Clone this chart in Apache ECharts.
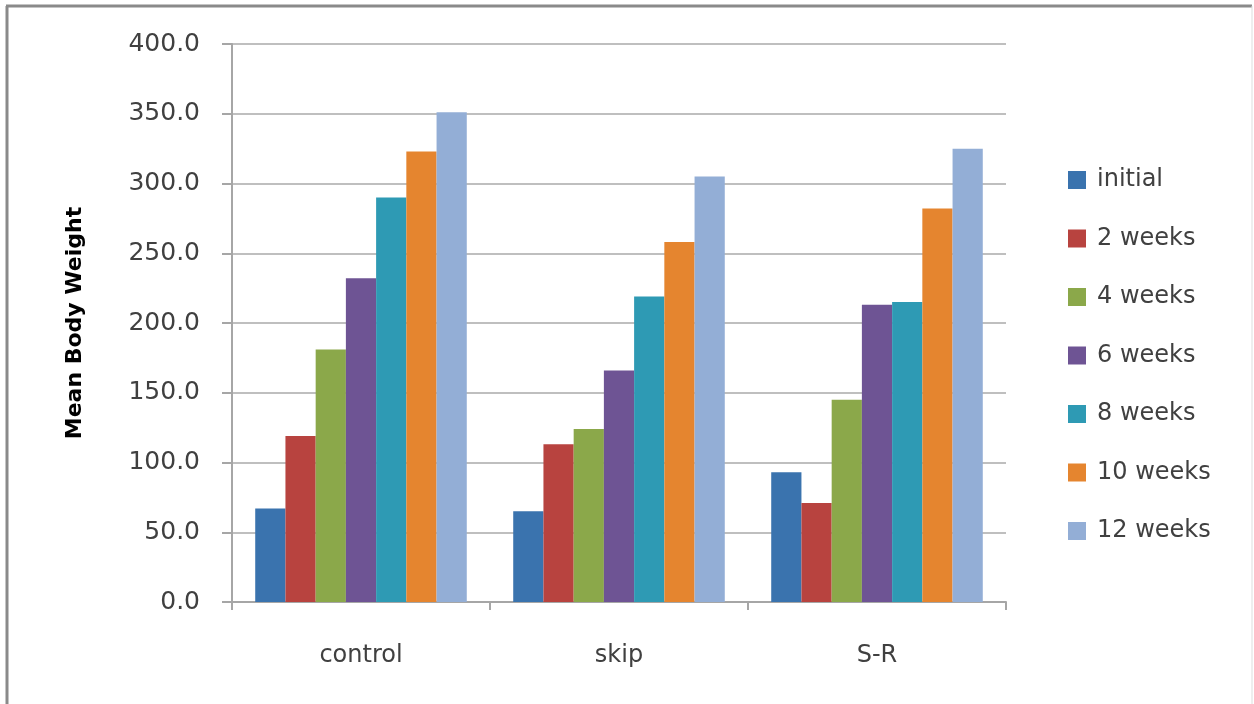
<!DOCTYPE html>
<html>
<head>
<meta charset="utf-8">
<script src="https://cdn.jsdelivr.net/npm/echarts@6/dist/echarts.min.js"></script>
<style>html,body{margin:0;padding:0;background:#fff;}#chart{width:1254px;height:704px;}</style>
</head>
<body>
<div id="chart"></div>
<script>
const categories = ['control', 'skip', 'S-R'];
const seriesNames = ['initial', '2 weeks', '4 weeks', '6 weeks', '8 weeks', '10 weeks', '12 weeks'];
const initial = [67, 65, 93];
const week2 = [119, 113, 71];
const week4 = [181, 124, 145];
const week6 = [232, 166, 213];
const week8 = [290, 219, 215];
const week10 = [323, 258, 282];
const week12 = [351, 305, 325];
const colors = ['#3a73ae', '#b8433f', '#8ba84a', '#6e5494', '#2e9ab4', '#e5852f', '#93aed6'];
const yTicks = { min: 0, max: 400, interval: 50 };

const seriesData = [initial, week2, week4, week6, week8, week10, week12];
const FONT = 'DejaVu Sans';

const chart = echarts.init(document.getElementById('chart'));
chart.setOption({
  backgroundColor: '#fff',
  animation: false,
  color: colors,
  grid: { left: 232, right: 248, top: 44, bottom: 102 },
  legend: {
    orient: 'vertical',
    left: 1063,
    top: 163,
    itemWidth: 18,
    itemHeight: 18,
    itemGap: 34.5,
    icon: 'rect',
    data: seriesNames,
    textStyle: { fontFamily: FONT, fontSize: 24, color: '#404040', lineHeight: 18, padding: [0, 0, 0, 6] }
  },
  xAxis: {
    type: 'category',
    data: categories,
    axisLine: { lineStyle: { color: '#a6a6a6', width: 2 } },
    axisTick: { show: true, length: 8, lineStyle: { color: '#a6a6a6', width: 2 } },
    axisLabel: { fontFamily: FONT, fontSize: 24, color: '#404040', margin: 42 }
  },
  yAxis: {
    type: 'value',
    min: yTicks.min,
    max: yTicks.max,
    interval: yTicks.interval,
    name: 'Mean Body Weight',
    nameLocation: 'middle',
    nameGap: 146,
    nameRotate: 90,
    nameTextStyle: { fontFamily: FONT, fontSize: 22, fontWeight: 'bold', color: '#000' },
    axisLine: { show: true, lineStyle: { color: '#a6a6a6', width: 2 } },
    axisTick: { show: true, length: 10, lineStyle: { color: '#a6a6a6', width: 2 } },
    axisLabel: { fontFamily: FONT, fontSize: 25, color: '#404040', margin: 32, formatter: v => v.toFixed(1) },
    splitLine: { lineStyle: { color: '#bfbfbf', width: 2 } }
  },
  graphic: [
    { type: 'line', shape: { x1: 6, y1: 6, x2: 1252, y2: 6 }, style: { stroke: '#8a8a8a', lineWidth: 3 } },
    { type: 'line', shape: { x1: 7, y1: 6, x2: 7, y2: 704 }, style: { stroke: '#8a8a8a', lineWidth: 3 } },
    { type: 'line', shape: { x1: 1252, y1: 6, x2: 1252, y2: 704 }, style: { stroke: '#dddddd', lineWidth: 1 } }
  ],
  series: seriesNames.map((name, i) => ({
    name: name,
    type: 'bar',
    data: seriesData[i],
    barGap: '0%',
    barCategoryGap: '18%'
  }))
});
</script>
</body>
</html>
